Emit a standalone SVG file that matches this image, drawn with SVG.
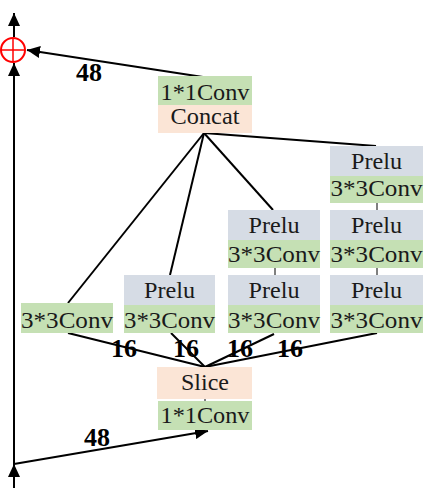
<svg xmlns="http://www.w3.org/2000/svg" width="438" height="488" viewBox="0 0 438 488">
<style>
.g{fill:#c5e0b4}
.o{fill:#fbe5d6}
.b{fill:#d6dce5}
text{font-family:'Liberation Serif','DejaVu Serif',serif}
.t{font-size:24px;fill:#1a1a1a;text-anchor:middle}
.n{font-size:26px;font-weight:bold;fill:#000;text-anchor:middle}
.l{stroke:#000;stroke-width:2;fill:none}
.k{stroke:#000;stroke-width:1;fill:none}
</style>
<defs>
<marker id="ah" markerUnits="userSpaceOnUse" markerWidth="14" markerHeight="12" refX="13" refY="6" orient="auto">
<path d="M0,0 L13,6 L0,12 Z" fill="#000"/>
</marker>
</defs>
<rect width="438" height="488" fill="#fff"/>
<g id="connectors">
<line class="l" x1="14" y1="488" x2="14" y2="464" marker-end="url(#ah)"/>
<line class="l" x1="14" y1="464" x2="14" y2="63" marker-end="url(#ah)"/>
<line class="l" x1="14" y1="37" x2="14" y2="13" marker-end="url(#ah)"/>
<line class="l" x1="14" y1="464" x2="208" y2="431" marker-end="url(#ah)"/>
<line class="l" x1="203" y1="77" x2="27" y2="50" marker-end="url(#ah)"/>
<line class="l" x1="204" y1="133" x2="68" y2="303"/>
<line class="l" x1="204" y1="133" x2="170" y2="275"/>
<line class="l" x1="204" y1="133" x2="273" y2="210"/>
<line class="l" x1="204" y1="133" x2="376" y2="146"/>
<line class="l" x1="68" y1="333" x2="205" y2="367"/>
<line class="l" x1="171" y1="333" x2="205" y2="367"/>
<line class="l" x1="274" y1="334" x2="205" y2="367"/>
<line class="l" x1="377" y1="333" x2="205" y2="367"/>
<line class="k" x1="275" y1="268" x2="275" y2="275"/>
<line class="k" x1="377" y1="203" x2="377" y2="210"/>
<line class="k" x1="377" y1="268" x2="377" y2="275"/>
<line class="k" x1="205" y1="399" x2="205" y2="401"/>
</g>
<g id="sum">
<circle cx="13" cy="50" r="12" fill="none" stroke="#f00" stroke-width="2"/>
<line x1="1" y1="50" x2="25" y2="50" stroke="#f00" stroke-width="1.5"/>
<line x1="13" y1="38" x2="13" y2="62" stroke="#f00" stroke-width="1.5"/>
</g>
<g id="top-node">
<rect class="g" x="158" y="76" width="94" height="29"/>
<rect class="o" x="158" y="105" width="94" height="28"/>
<text class="t" x="205" y="100" textLength="89" lengthAdjust="spacingAndGlyphs">1*1Conv</text>
<text class="t" x="205" y="124" textLength="69" lengthAdjust="spacingAndGlyphs">Concat</text>
</g>
<g id="branch1">
<rect class="g" x="21" y="303" width="92" height="30"/>
<text class="t" x="67" y="328" textLength="92" lengthAdjust="spacingAndGlyphs">3*3Conv</text>
</g>
<g id="branch2">
<rect class="b" x="124" y="275" width="91" height="30"/>
<rect class="g" x="124" y="305" width="91" height="28"/>
<text class="t" x="169.5" y="298" textLength="51" lengthAdjust="spacingAndGlyphs">Prelu</text>
<text class="t" x="169.5" y="328" textLength="91" lengthAdjust="spacingAndGlyphs">3*3Conv</text>
</g>
<g id="branch3a">
<rect class="b" x="228" y="210" width="92" height="30"/>
<rect class="g" x="228" y="240" width="92" height="28"/>
<text class="t" x="274" y="233" textLength="51" lengthAdjust="spacingAndGlyphs">Prelu</text>
<text class="t" x="274" y="262" textLength="92" lengthAdjust="spacingAndGlyphs">3*3Conv</text>
</g>
<g id="branch3b">
<rect class="b" x="228" y="275" width="92" height="30"/>
<rect class="g" x="228" y="305" width="92" height="28"/>
<text class="t" x="274" y="298" textLength="51" lengthAdjust="spacingAndGlyphs">Prelu</text>
<text class="t" x="274" y="328" textLength="92" lengthAdjust="spacingAndGlyphs">3*3Conv</text>
</g>
<g id="branch4a">
<rect class="b" x="330" y="146" width="93" height="30"/>
<rect class="g" x="330" y="176" width="93" height="27"/>
<text class="t" x="376.5" y="169" textLength="51" lengthAdjust="spacingAndGlyphs">Prelu</text>
<text class="t" x="376.5" y="196" textLength="92" lengthAdjust="spacingAndGlyphs">3*3Conv</text>
</g>
<g id="branch4b">
<rect class="b" x="330" y="210" width="93" height="30"/>
<rect class="g" x="330" y="240" width="93" height="28"/>
<text class="t" x="376.5" y="233" textLength="51" lengthAdjust="spacingAndGlyphs">Prelu</text>
<text class="t" x="376.5" y="262" textLength="92" lengthAdjust="spacingAndGlyphs">3*3Conv</text>
</g>
<g id="branch4c">
<rect class="b" x="330" y="275" width="93" height="30"/>
<rect class="g" x="330" y="305" width="93" height="28"/>
<text class="t" x="376.5" y="298" textLength="51" lengthAdjust="spacingAndGlyphs">Prelu</text>
<text class="t" x="376.5" y="328" textLength="92" lengthAdjust="spacingAndGlyphs">3*3Conv</text>
</g>
<g id="bottom-node">
<rect class="o" x="157" y="367" width="95" height="32"/>
<rect class="g" x="158" y="401" width="94" height="29"/>
<text class="t" x="205" y="390" textLength="48" lengthAdjust="spacingAndGlyphs">Slice</text>
<text class="t" x="205" y="423" textLength="89" lengthAdjust="spacingAndGlyphs">1*1Conv</text>
</g>
<g id="labels">
<text class="n" x="89" y="81">48</text>
<text class="n" x="97" y="446">48</text>
<text class="n" x="124" y="357">16</text>
<text class="n" x="186" y="357">16</text>
<text class="n" x="240" y="357">16</text>
<text class="n" x="290" y="357">16</text>
</g>
</svg>
